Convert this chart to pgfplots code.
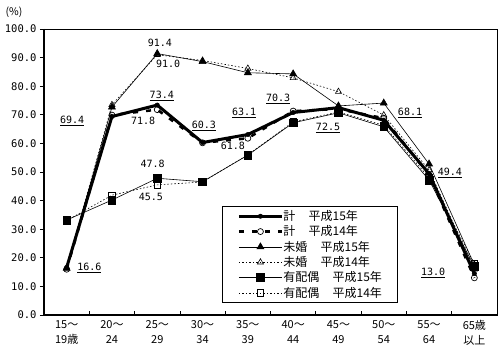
\documentclass[border=0pt]{standalone}
\usepackage{fontspec}
\setmainfont{Noto Sans CJK JP}
\newfontfamily\monof{DejaVu Sans Mono}
\usepackage{pgfplots}
\pgfplotsset{compat=1.18}
\newcommand{\lab}{\monof\fontsize{10}{12}\selectfont}
\begin{document}
\begin{tikzpicture}
\begin{axis}[name=ax, scale only axis, width=453pt, height=286pt,
  xmin=-0.5, xmax=9.5, ymin=0, ymax=100,
  xtick={0,...,9},
  xticklabels={{15～\\19歳},{20～\\24},{25～\\29},{30～\\34},{35～\\39},{40～\\44},{45～\\49},{50～\\54},{55～\\64},{65歳\\以上}},
  xticklabel style={align=center, font=\fontsize{11}{15}\selectfont, yshift=2pt},
  major x tick style={draw=none},
  minor xtick={0.5,1.5,...,8.5},
  minor x tick style={yshift=4pt},
  minor tick length=4pt,
  major tick length=4pt,
  tick align=outside, tick pos=left,
  ytick={0,10,...,100},
  yticklabel style={/pgf/number format/.cd, fixed, fixed zerofill, precision=1, assume math mode=true, /tikz/.cd, font=\monof\fontsize{10.5}{12}\selectfont},
  axis line style={line width=0.7pt},
  tick style={black, line width=0.7pt},
  clip=false,
  legend cell align=left,
  legend style={at={(rel axis cs:0.393,0.381)}, anchor=north west, draw=black, line width=0.8pt, font=\fontsize{12}{13}\selectfont, row sep=-0.3pt, inner xsep=15pt, inner ysep=2pt, nodes={inner xsep=0pt}},
  legend image code/.code={\draw[mark repeat=2,mark phase=2] plot coordinates {(0pt,0pt) (21.5pt,0pt) (43pt,0pt)};},
]
% 計 平成15年
\addplot[black, line width=3pt, mark=*, mark size=2.2pt, mark options={solid, line width=0.5pt}] coordinates {
(0,16.6)(1,69.4)(2,73.4)(3,60.3)(4,63.1)(5,70.8)(6,72.5)(7,68.1)(8,49.4)(9,14.5)};
\addlegendentry{計\hspace{1.1em}平成15年}
% 計 平成14年
\addplot[black, line width=2.5pt, dash pattern=on 5pt off 8pt, mark=o, mark size=3pt, mark options={solid, fill=white, line width=0.7pt}] coordinates {
(0,16.0)(1,69.9)(2,71.8)(3,60.2)(4,61.8)(5,71.3)(6,72.0)(7,68.8)(8,49.0)(9,13.0)};
\addlegendentry{計\hspace{1.1em}平成14年}
% 未婚 平成15年
\addplot[black, line width=0.6pt, mark=triangle*, mark size=4pt, mark options={solid}] coordinates {
(0,16.3)(1,72.7)(2,91.4)(3,88.6)(4,84.7)(5,84.3)(6,73.1)(7,74.1)(8,52.8)(9,17.5)};
\addlegendentry{未婚\hspace{1.1em}平成15年}
% 未婚 平成14年
\addplot[black, line width=0.6pt, dash pattern=on 1.5pt off 2pt, mark=triangle, mark size=3.5pt, mark options={solid, fill=white, line width=0.6pt}] coordinates {
(0,16.5)(1,73.5)(2,91.0)(3,89.0)(4,86.2)(5,82.9)(6,78.1)(7,69.9)(8,50.7)(9,16.0)};
\addlegendentry{未婚\hspace{1.1em}平成14年}
% 有配偶 平成15年
\addplot[black, line width=0.6pt, mark=square*, mark size=3.8pt, mark options={solid}] coordinates {
(0,33.2)(1,40.2)(2,47.8)(3,46.6)(4,55.9)(5,67.2)(6,70.7)(7,65.8)(8,47.2)(9,17.0)};
\addlegendentry{有配偶\hspace{1.1em}平成15年}
% 有配偶 平成14年
\addplot[black, line width=0.6pt, dash pattern=on 1.5pt off 2pt, mark=square, mark size=3.3pt, mark options={solid, fill=white, line width=0.6pt}] coordinates {
(0,33.0)(1,41.9)(2,45.5)(3,46.5)(4,56.0)(5,67.5)(6,71.0)(7,66.3)(8,48.0)(9,18.0)};
\addlegendentry{有配偶\hspace{1.1em}平成14年}
% thick left and bottom axis lines
\draw[line width=1.8pt] (rel axis cs:0,1) -- (rel axis cs:0,0) -- (rel axis cs:1,0);
% data labels
\node[font=\lab] at (axis cs:0.12,67.8) {\underline{69.4}};
\node[font=\lab] at (axis cs:0.50,16.4) {\underline{16.6}};
\node[font=\lab] at (axis cs:2.06,95.1) {91.4};
\node[font=\lab] at (axis cs:2.24,87.8) {91.0};
\node[font=\lab] at (axis cs:2.10,76.6) {\underline{73.4}};
\node[font=\lab] at (axis cs:1.69,67.8) {71.8};
\node[font=\lab] at (axis cs:3.03,66.1) {\underline{60.3}};
\node[font=\lab] at (axis cs:3.67,59.1) {61.8};
\node[font=\lab] at (axis cs:3.92,70.6) {\underline{63.1}};
\node[font=\lab] at (axis cs:1.90,52.8) {47.8};
\node[font=\lab] at (axis cs:1.86,41.3) {45.5};
\node[font=\lab] at (axis cs:4.67,75.5) {\underline{70.3}};
\node[font=\lab] at (axis cs:5.77,65.4) {\underline{72.5}};
\node[font=\lab] at (axis cs:7.58,70.6) {\underline{68.1}};
\node[font=\lab] at (axis cs:8.46,49.6) {\underline{49.4}};
\node[font=\lab] at (axis cs:8.09,14.7) {\underline{13.0}};
\node[anchor=west, font=\fontsize{10.5}{12}\selectfont] at ([shift={(-42pt,17pt)}]rel axis cs:0,1) {(\%)};
\end{axis}
\pgfresetboundingbox
\path ([shift={(-44pt,-37pt)}]ax.south west) rectangle ([shift={(3pt,29pt)}]ax.north east);
\end{tikzpicture}
\end{document}
